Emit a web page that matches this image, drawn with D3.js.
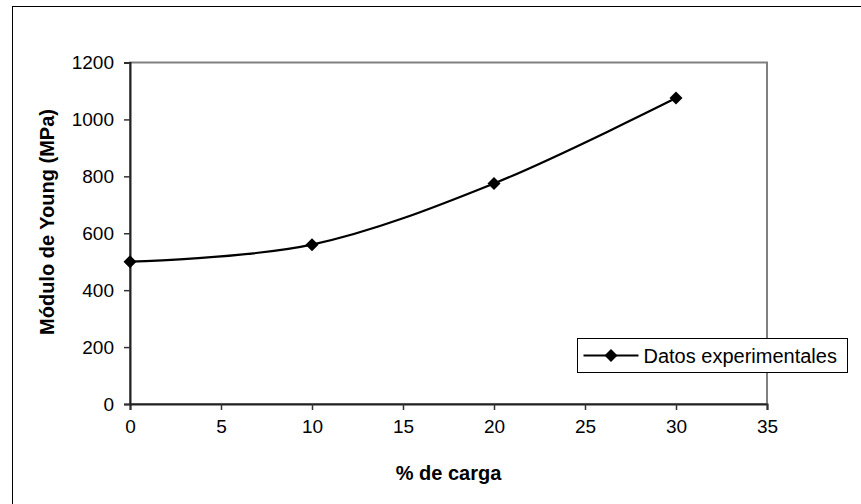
<!DOCTYPE html>
<html>
<head>
    <meta charset="utf-8">
    <script src="https://d3js.org/d3.v7.min.js"></script>
    <style>
        body { margin: 0; background: #fff; }
        text { font-family: "Liberation Sans", Arial, sans-serif; fill: #000; }
    </style>
</head>
<body>
    <div id="container"></div>

    <script>
        var carga = [0, 10, 20, 30];
        var modulo = [500, 560, 775, 1075];
        var xTicks = [0, 5, 10, 15, 20, 25, 30, 35];
        var yTicks = [0, 200, 400, 600, 800, 1000, 1200];
        var serieNombre = "Datos experimentales";

        var width = 861, height = 504;

        var svg = d3.select("#container").append("svg")
            .attr("width", width)
            .attr("height", height);

        // marco exterior
        svg.append("rect")
            .attr("x", 12.5).attr("y", 6.5)
            .attr("width", 870).attr("height", 520)
            .attr("fill", "none").attr("stroke", "#000").attr("stroke-width", 1);

        var x = d3.scaleLinear().domain([0, 35]).range([130, 767]);
        var y = d3.scaleLinear().domain([0, 1200]).range([404, 62.5]);

        // borde del área de trazado (gris)
        svg.append("rect")
            .attr("x", x(0)).attr("y", y(1200))
            .attr("width", x(35) - x(0)).attr("height", y(0) - y(1200))
            .attr("fill", "none").attr("stroke", "#808080").attr("stroke-width", 2);

        var xAxis = svg.append("g")
            .attr("transform", "translate(0," + y(0) + ")")
            .call(d3.axisBottom(x).tickValues(xTicks).tickFormat(d3.format("d")).tickSize(6).tickPadding(10));
        var yAxis = svg.append("g")
            .attr("transform", "translate(" + x(0) + ",0)")
            .call(d3.axisLeft(y).tickValues(yTicks).tickFormat(d3.format("d")).tickSize(6).tickPadding(10));

        [xAxis, yAxis].forEach(function(g) {
            g.select(".domain").attr("stroke", "#222").attr("stroke-width", 2);
            g.selectAll(".tick line").attr("stroke", "#333").attr("stroke-width", 1.5);
            g.selectAll(".tick text")
                .style("font-family", "'Liberation Sans', Arial, sans-serif")
                .style("font-size", "19px").attr("fill", "#000");
        });

        // títulos
        svg.append("text")
            .attr("x", (x(0) + x(35)) / 2).attr("y", 480)
            .attr("text-anchor", "middle")
            .style("font-size", "20px").style("font-weight", "bold")
            .text("% de carga");
        svg.append("text")
            .attr("transform", "translate(54,222) rotate(-90)")
            .attr("text-anchor", "middle")
            .style("font-size", "20px").style("font-weight", "bold")
            .text("Módulo de Young (MPa)");

        var data = carga.map(function(c, i) { return {x: c, y: modulo[i]}; });

        var line = d3.line()
            .x(function(d) { return x(d.x); })
            .y(function(d) { return y(d.y); })
            .curve(d3.curveCatmullRom.alpha(0));

        svg.append("path")
            .datum(data)
            .attr("d", line)
            .attr("fill", "none").attr("stroke", "#000").attr("stroke-width", 2.2);

        var diamond = "M0,-6.5L6.5,0L0,6.5L-6.5,0Z";
        svg.selectAll(".punto")
            .data(data)
            .enter().append("path")
            .attr("class", "punto")
            .attr("d", diamond)
            .attr("transform", function(d) { return "translate(" + x(d.x) + "," + y(d.y) + ")"; })
            .attr("fill", "#000");

        // leyenda
        var leg = svg.append("g").attr("transform", "translate(577.5,338.5)");
        leg.append("rect")
            .attr("width", 270).attr("height", 34)
            .attr("fill", "#fff").attr("stroke", "#000").attr("stroke-width", 1);
        leg.append("line")
            .attr("x1", 6).attr("x2", 61).attr("y1", 17).attr("y2", 17)
            .attr("stroke", "#000").attr("stroke-width", 2.2);
        leg.append("path")
            .attr("d", diamond)
            .attr("transform", "translate(33.5,17)")
            .attr("fill", "#000");
        leg.append("text")
            .attr("x", 66).attr("y", 24)
            .style("font-size", "20px")
            .text(serieNombre);
    </script>
</body>
</html>
